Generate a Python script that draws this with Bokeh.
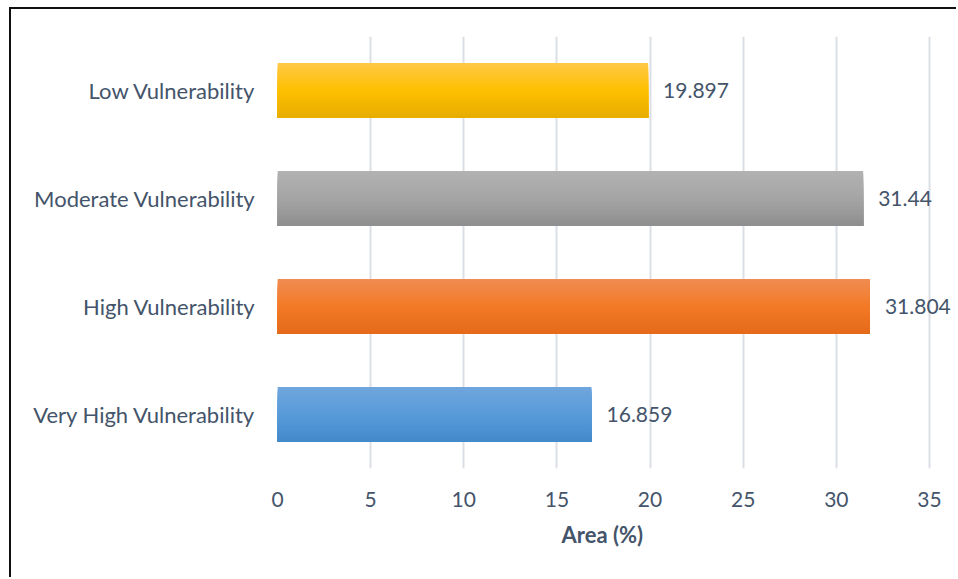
from bokeh.plotting import figure
from bokeh.models import FactorRange, Range1d, FixedTicker, Title
from bokeh.transform import dodge
from bokeh.core.properties import value
from bokeh.embed import file_html
from bokeh.resources import INLINE

categories = ["Very High Vulnerability", "High Vulnerability", "Moderate Vulnerability", "Low Vulnerability"]
values = [16.859, 31.804, 31.44, 19.897]
labels = ["16.859", "31.804", "31.44", "19.897"]
x_ticks = [0, 5, 10, 15, 20, 25, 30, 35]
x_title = "Area (%)"

# gradient stops (top, middle, bottom) per bar
stops = [
    [(111, 166, 220), (88, 155, 217), (66, 137, 202)],
    [(240, 140, 82), (243, 122, 38), (228, 106, 26)],
    [(178, 178, 178), (165, 165, 165), (142, 142, 142)],
    [(255, 200, 72), (255, 192, 0), (230, 172, 0)],
]

FONT = "Lato"
TXT = "#44546a"

p = figure(width=947, height=570, y_range=FactorRange(factors=categories, range_padding=0),
           x_range=Range1d(0, 36.56), output_backend="svg", toolbar_location=None,
           min_border_left=266, min_border_top=27, min_border_bottom=111, min_border_right=0)
p.styles = {"margin-left": "9px", "margin-top": "7px",
            "border-left": "2px solid #111", "border-top": "2px solid #111"}
p.outline_line_color = None
p.background_fill_color = "white"
p.border_fill_color = "white"

N = 30
bar_h = 0.51
strip = bar_h / N
for i in range(N):
    t = (i + 0.5) / N  # 0 top -> 1 bottom
    cols = []
    for s in stops:
        if t < 0.5:
            a, b, f = s[0], s[1], t / 0.5
        else:
            a, b, f = s[1], s[2], (t - 0.5) / 0.5
        c = tuple(int(round(a[k] + (b[k] - a[k]) * f)) for k in range(3))
        cols.append("#%02x%02x%02x" % c)
    top = bar_h / 2 - i * strip
    bottom = -bar_h / 2
    h = top - bottom
    off = (top + bottom) / 2
    p.hbar(y=dodge("cat", off, range=p.y_range), right="val", left=0, height=h,
           fill_color="col", line_color=None,
           source=dict(cat=categories, val=values, col=cols))

p.text(x=values, y=categories, text=labels, x_offset=15, text_align="left",
       text_baseline="middle", text_font=value(FONT), text_font_size="21px", text_color=TXT)

p.xaxis.ticker = FixedTicker(ticks=x_ticks)
p.xgrid.ticker = FixedTicker(ticks=x_ticks)
p.xgrid.grid_line_color = "#dadee5"
p.xgrid.grid_line_width = 2
p.ygrid.grid_line_color = None
for ax in (p.xaxis, p.yaxis):
    ax.axis_line_color = None
    ax.major_tick_line_color = None
    ax.minor_tick_line_color = None
    ax.major_label_text_font = FONT
    ax.major_label_text_color = TXT
p.xaxis.major_label_text_font_size = "21px"
p.yaxis.major_label_text_font_size = "22px"
p.xaxis.major_label_standoff = 17
p.yaxis.major_label_standoff = 16

p.add_layout(Title(text=x_title, align="left", offset=284, standoff=19,
                   text_font=FONT, text_font_size="22px", text_font_style="bold",
                   text_color=TXT), "below")

open("out.html", "w").write(file_html(p, INLINE))
